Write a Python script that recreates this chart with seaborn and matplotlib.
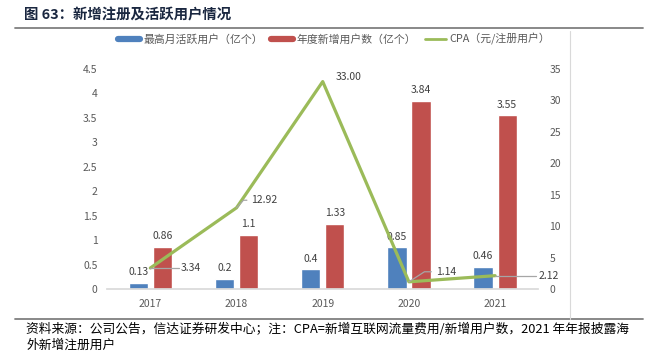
import matplotlib
matplotlib.use('Agg')
import matplotlib.pyplot as plt
from matplotlib.lines import Line2D
import numpy as np
import pandas as pd
import seaborn as sns

years = ['2017', '2018', '2019', '2020', '2021']
mau = [0.13, 0.2, 0.4, 0.85, 0.46]
new_users = [0.86, 1.1, 1.33, 3.84, 3.55]
cpa = [3.34, 12.92, 33.00, 1.14, 2.12]

mau_name = '最高月活跃用户（亿个）'
new_name = '年度新增用户数（亿个）'
cpa_name = 'CPA（元/注册用户）'

sns.set_theme(style='white')
plt.rcParams['font.family'] = ['Noto Sans CJK SC', 'DejaVu Sans']

df = pd.DataFrame({'year': years * 2,
                   'value': mau + new_users,
                   'series': [mau_name] * 5 + [new_name] * 5})

fig = plt.figure(figsize=(6.62, 3.52), dpi=100)
ax = fig.add_axes([0.162, 0.179, 0.651, 0.625])
sns.barplot(data=df, x='year', y='value', hue='series', ax=ax,
            palette=['#4F81BD', '#C0504D'], width=0.56, gap=0.2,
            saturation=1, legend=False)
ax.set_xlim(-0.5, 4.5)
ax.set_ylim(0, 4.5)
ax.set_yticks(np.arange(0, 4.51, 0.5))
ax.set_yticklabels(['0', '0.5', '1', '1.5', '2', '2.5', '3', '3.5', '4', '4.5'])
ax.set_xlabel('')
ax.set_ylabel('')
for s in ['top', 'left', 'right']:
    ax.spines[s].set_visible(False)
ax.spines['bottom'].set_color('#D9D9D9')
ax.tick_params(axis='both', length=0, labelsize=7.5, colors='#595959', pad=7)

for i, v in enumerate(mau):
    ax.text(i - 0.14, v + 0.12, f'{v:g}', ha='center', va='bottom',
            fontsize=7.5, color='#404040')
for i, v in enumerate(new_users):
    ax.text(i + 0.14, v + 0.12, f'{v:g}', ha='center', va='bottom',
            fontsize=7.5, color='#404040')

ax2 = ax.twinx()
sns.lineplot(x=np.arange(5), y=cpa, ax=ax2, color='#9BBB59', linewidth=2.3)
ax2.set_ylim(0, 35)
ax2.set_yticks(range(0, 36, 5))
for s in ['top', 'left', 'right', 'bottom']:
    ax2.spines[s].set_visible(False)
ax2.tick_params(axis='y', length=0, labelsize=7.5, colors='#595959', pad=8)

# CPA labels with leader lines
offsets = [(0.35, 0), (0.17, 1.2), (0.15, 0.8), (0.32, 1.6), (0.5, 0)]
for i, v in enumerate(cpa):
    dx, dy = offsets[i]
    tx, ty = i + dx, v + dy
    if i == 0:
        ax2.plot([i, tx - 0.02], [v, v], color='#A6A6A6', lw=0.9)
    elif i == 1:
        ax2.plot([i, i + 0.08, i + 0.12], [v, v + 1.2, v + 1.2], color='#A6A6A6', lw=0.9)
    elif i == 3:
        ax2.plot([i, i + 0.18, i + 0.26], [v, v + 1.6, v + 1.6], color='#A6A6A6', lw=0.9)
    elif i == 4:
        ax2.plot([i, tx - 0.02], [v, v], color='#A6A6A6', lw=0.9)
    ax2.text(tx, ty, f'{v:.2f}', ha='left', va='center', fontsize=7.5, color='#404040')

# legend
handles = [Line2D([0], [0], color='#4F81BD', lw=4.5),
           Line2D([0], [0], color='#C0504D', lw=4.5),
           Line2D([0], [0], color='#9BBB59', lw=2)]
fig.legend(handles, [mau_name, new_name, cpa_name], loc='center',
           bbox_to_anchor=(0.505, 0.889), ncol=3, frameon=False, fontsize=7.8,
           handlelength=2.0, columnspacing=0.8, handletextpad=0.3,
           labelcolor='#595959')

# frame lines
fig.add_artist(Line2D([0.023, 0.972], [0.92, 0.92], color='#7F7F7F', lw=1.3))
fig.add_artist(Line2D([0.023, 0.972], [0.094, 0.094], color='#7F7F7F', lw=1.3))
fig.add_artist(Line2D([0.861, 0.861], [0.094, 0.912], color='#D9D9D9', lw=0.8))

fig.text(0.036, 0.957, '图 63：新增注册及活跃用户情况', fontsize=10.4, fontweight='bold',
         color='#1A2740', ha='left', va='center')
fig.text(0.04, 0.065, '资料来源：公司公告，信达证券研发中心；注：CPA=新增互联网流量费用/新增用户数，2021 年年报披露海',
         fontsize=9.2, color='black', ha='left', va='center')
fig.text(0.04, 0.018, '外新增注册用户', fontsize=9.2, color='black',
         ha='left', va='center')

fig.savefig('out.png', dpi=100)
